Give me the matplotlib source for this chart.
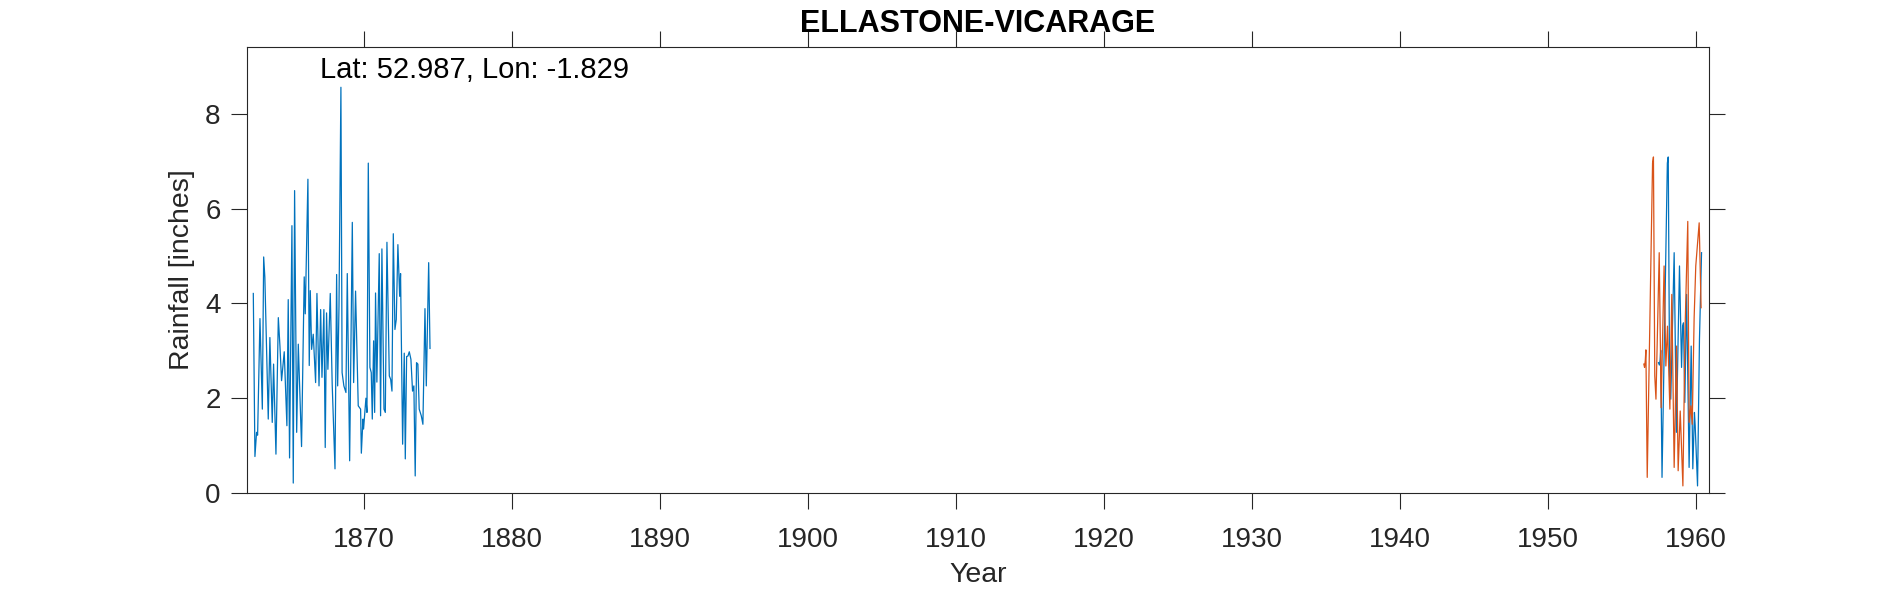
import numpy as np
import matplotlib
matplotlib.use("Agg")
import matplotlib.pyplot as plt

plt.rcParams['font.family'] = ['Liberation Sans', 'DejaVu Sans']

# blue series, first block (1862-1874)
years_early = [1862.52, 1862.63, 1862.74, 1862.81, 1862.97, 1863.13, 1863.22, 1863.30, 1863.53, 1863.64,
               1863.80, 1863.89, 1864.05, 1864.21, 1864.32, 1864.43, 1864.61, 1864.79, 1864.88, 1864.97,
               1865.13, 1865.22, 1865.31, 1865.45, 1865.56, 1865.78, 1865.96, 1866.03, 1866.21, 1866.30,
               1866.37, 1866.46, 1866.57, 1866.73, 1866.82, 1866.96, 1867.07, 1867.16, 1867.29, 1867.38,
               1867.47, 1867.56, 1867.72, 1867.85, 1868.04, 1868.15, 1868.22, 1868.31, 1868.44, 1868.52,
               1868.64, 1868.78, 1868.87, 1869.03, 1869.21, 1869.30, 1869.43, 1869.61, 1869.77, 1869.82,
               1869.93, 1869.97, 1870.13, 1870.20, 1870.29, 1870.40, 1870.49, 1870.56, 1870.65, 1870.72,
               1870.78, 1870.87, 1871.03, 1871.12, 1871.21, 1871.35, 1871.44, 1871.55, 1871.71, 1871.80,
               1871.89, 1871.98, 1872.09, 1872.18, 1872.29, 1872.41, 1872.47, 1872.61, 1872.72, 1872.79,
               1872.88, 1872.97, 1873.06, 1873.17, 1873.28, 1873.37, 1873.46, 1873.55, 1873.64, 1873.73,
               1873.87, 1873.98, 1874.12, 1874.21, 1874.37, 1874.46]
rain_early = [4.21, 0.77, 1.28, 1.22, 3.68, 1.77, 4.98, 4.55, 1.56, 3.28,
              1.49, 2.72, 0.82, 3.70, 3.10, 2.37, 2.98, 1.42, 4.08, 0.74,
              5.64, 0.21, 6.38, 1.28, 3.14, 0.98, 4.56, 3.78, 6.62, 2.69,
              4.27, 3.03, 3.35, 2.33, 4.21, 2.26, 3.87, 2.44, 3.87, 0.96,
              3.80, 2.61, 4.21, 2.30, 0.51, 4.61, 2.26, 3.94, 8.56, 2.54,
              2.26, 2.12, 4.63, 0.68, 5.71, 2.33, 4.26, 1.84, 1.77, 0.84,
              1.56, 1.35, 2.00, 1.70, 6.96, 2.65, 2.54, 1.56, 3.21, 1.70,
              4.22, 2.34, 5.05, 1.63, 5.15, 1.77, 1.70, 5.29, 2.47, 2.40,
              2.15, 5.47, 3.45, 3.66, 5.24, 4.15, 4.63, 1.03, 2.95, 0.72,
              2.88, 2.89, 2.98, 2.82, 2.15, 2.26, 0.36, 2.75, 2.72, 1.77,
              1.63, 1.45, 3.89, 2.26, 4.86, 3.05]

# blue series, second block (1957-1960)
years_late = [1957.47, 1957.53, 1957.58, 1957.62, 1957.71, 1958.07, 1958.13, 1958.22, 1958.30, 1958.53,
              1958.68, 1958.89, 1959.03, 1959.10, 1959.16, 1959.25, 1959.37, 1959.54, 1959.68, 1959.79,
              1959.90, 1959.95, 1960.11, 1960.24, 1960.38]
rain_late = [2.75, 2.70, 2.80, 3.01, 0.33, 6.96, 7.09, 2.47, 1.98, 5.07,
             1.28, 4.79, 2.65, 3.52, 3.59, 1.91, 4.19, 0.54, 3.10, 0.51,
             1.70, 1.42, 0.15, 3.24, 5.07]

# orange series
years_orange = [1956.48, 1956.53, 1956.58, 1956.62, 1956.71, 1957.07, 1957.13, 1957.22, 1957.30, 1957.52,
                1957.65, 1957.85, 1957.97, 1958.08, 1958.24, 1958.37, 1958.53, 1958.69, 1958.80, 1958.94,
                1959.12, 1959.27, 1959.45, 1959.54, 1959.66, 1959.75, 1959.88, 1959.99, 1960.22, 1960.35]
rain_orange = [2.72, 2.65, 2.80, 3.02, 0.33, 6.96, 7.09, 2.47, 1.98, 5.07,
               1.80, 4.79, 2.68, 3.52, 1.77, 4.19, 0.54, 3.10, 0.47, 1.73,
               0.15, 3.50, 5.73, 1.49, 1.84, 1.45, 3.70, 4.79, 5.70, 3.91]

station = "ELLASTONE-VICARAGE"
lat, lon = 52.987, -1.829

blue = "#0072BD"
orange = "#D95319"
axcol = "#262626"

# join the two blue blocks with a gap
t_blue = years_early + [np.nan] + years_late
r_blue = rain_early + [np.nan] + rain_late

fig = plt.figure(figsize=(18.9, 5.91), dpi=100)
ax = fig.add_axes([0.1305, 0.1658, 0.7737, 0.7547])

ax.plot(t_blue, r_blue, color=blue, lw=0.9)
ax.plot(years_orange, rain_orange, color=orange, lw=0.9)

ax.set_xlim(1862.07, 1960.88)
ax.set_ylim(0, 9.41)
ax.set_xticks(np.arange(1870, 1961, 10))
ax.set_yticks(np.arange(0, 9, 2))

# matlab style box: outward ticks on all four sides
ax.tick_params(direction='out', length=11.3, width=0.8, colors=axcol, labelsize=20,
               top=True, right=True)
ax.tick_params(axis='x', pad=13)
ax.tick_params(axis='y', pad=7.5)
for sp in ax.spines.values():
    sp.set_color(axcol)
    sp.set_linewidth(0.8)

ax.set_xlabel("Year", fontsize=20.5, color=axcol)
ax.set_ylabel("Rainfall [inches]", fontsize=20.5, color=axcol)
ax.xaxis.set_label_coords(0.5, -0.155)
ax.yaxis.set_label_coords(-0.035, 0.5)

ax.set_title(station, fontsize=22, fontweight='bold', y=1.0336, pad=0)
ax.text(1867.0, 8.76, "Lat: {}, Lon: {}".format(lat, lon), fontsize=21, va='baseline', ha='left')

fig.savefig("out.png", dpi=100)
